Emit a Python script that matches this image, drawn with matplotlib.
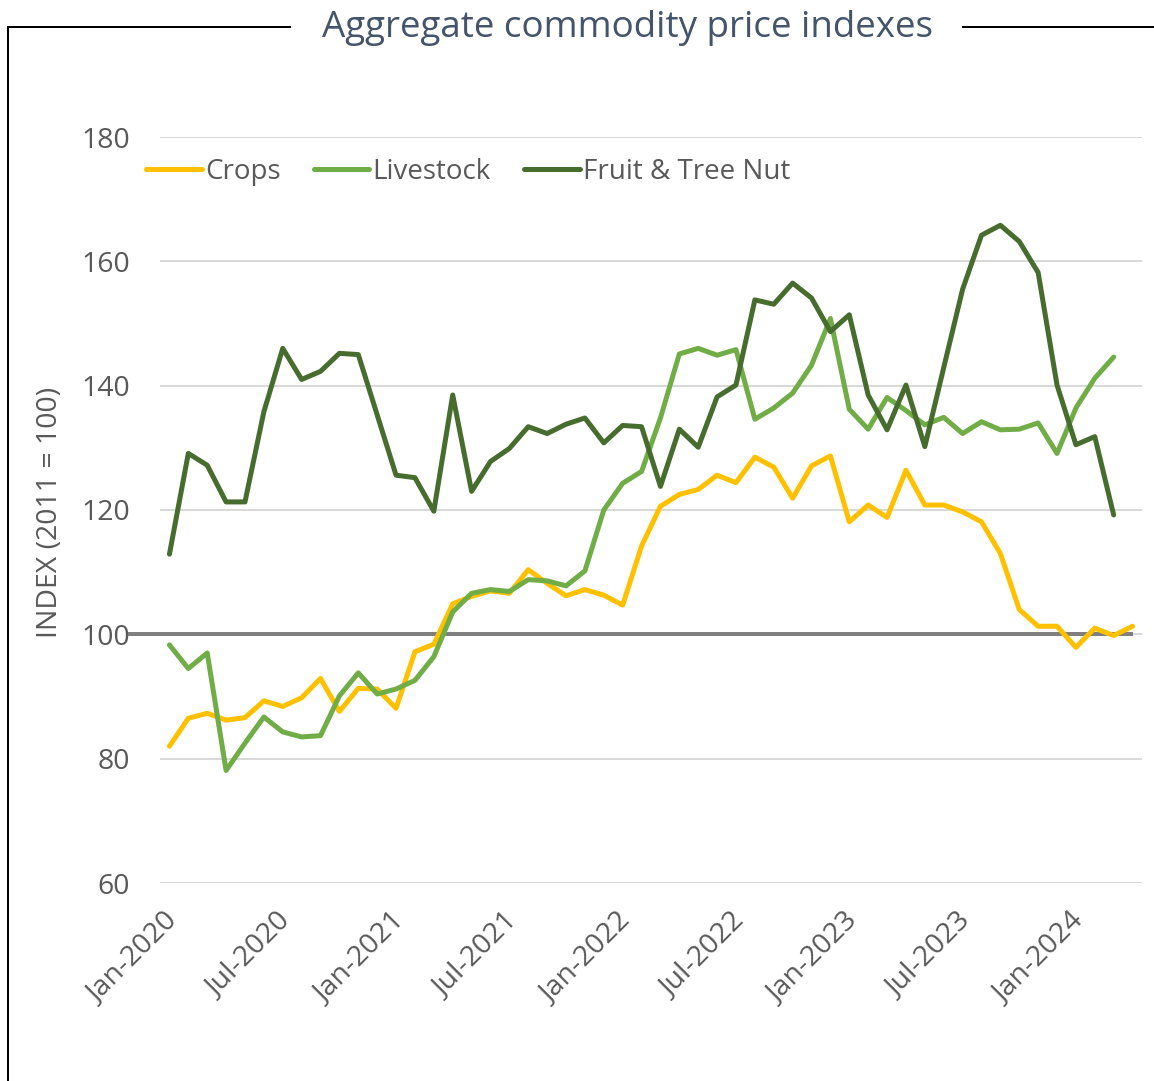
import matplotlib
matplotlib.use("Agg")
import matplotlib.pyplot as plt
import matplotlib.transforms as mtransforms
from matplotlib.lines import Line2D

plt.rcParams['font.family'] = ['Open Sans', 'DejaVu Sans']

crops = [82.0, 86.5, 87.3, 86.2, 86.6, 89.3, 88.4, 89.8, 92.9, 87.6,
         91.3, 91.2, 88.1, 97.2, 98.4, 104.9, 106.1, 107.0, 106.6, 110.4,
         108.2, 106.2, 107.2, 106.3, 104.7, 114.2, 120.6, 122.5, 123.3, 125.6,
         124.4, 128.5, 126.9, 121.9, 127.1, 128.7, 118.1, 120.8, 118.8, 126.4,
         120.8, 120.8, 119.7, 118.1, 113.0, 104.0, 101.3, 101.3, 97.9, 101.0,
         99.8, 101.3]
livestock = [98.3, 94.5, 97.0, 78.1, 82.5, 86.7, 84.3, 83.5, 83.7, 90.1,
             93.8, 90.4, 91.2, 92.6, 96.4, 103.6, 106.6, 107.2, 106.9, 108.8,
             108.6, 107.8, 110.2, 120.0, 124.3, 126.2, 134.8, 145.1, 146.0, 144.9,
             145.8, 134.6, 136.4, 138.8, 143.3, 150.8, 136.2, 133.0, 138.1, 136.0,
             133.7, 134.9, 132.3, 134.2, 132.9, 133.0, 134.0, 129.1, 136.4, 141.2,
             144.6]
fruit = [112.9, 129.1, 127.2, 121.3, 121.3, 135.8, 146.0, 141.0, 142.3, 145.2,
         145.0, 135.3, 125.6, 125.2, 119.8, 138.5, 123.0, 127.8, 129.9, 133.4,
         132.3, 133.8, 134.8, 130.8, 133.6, 133.4, 123.8, 133.0, 130.1, 138.2,
         140.1, 153.8, 153.1, 156.5, 154.1, 148.7, 151.4, 138.5, 132.9, 140.1,
         130.2, 142.9, 155.5, 164.2, 165.8, 163.2, 158.2, 140.1, 130.5, 131.8,
         119.2]
tick_labels = ["Jan-2020", "Jul-2020", "Jan-2021", "Jul-2021", "Jan-2022",
               "Jul-2022", "Jan-2023", "Jul-2023", "Jan-2024"]
baseline = 100

W, H = 1154, 1081
fig = plt.figure(figsize=(W / 100, H / 100), dpi=100)
ax = fig.add_axes([160 / W, 1 - 883 / H, (1142 - 160) / W, (883 - 137) / H])

px = 72 / 100
lw = 5 * px
ax.plot([-2.17, len(crops) - 1], [baseline, baseline], color='#7F7F7F', lw=4 * px,
        zorder=2, clip_on=False, solid_capstyle='butt')
ax.plot(range(len(crops)), crops, color='#FFC000', lw=lw, label='Crops', zorder=3,
        solid_joinstyle='round', solid_capstyle='round')
ax.plot(range(len(livestock)), livestock, color='#70AD47', lw=lw, label='Livestock', zorder=3,
        solid_joinstyle='round', solid_capstyle='round')
ax.plot(range(len(fruit)), fruit, color='#476D2E', lw=lw, label='Fruit & Tree Nut', zorder=3,
        solid_joinstyle='round', solid_capstyle='round')

ax.set_xlim(-0.5, 51.5)
ax.set_ylim(60, 180)
ax.set_yticks(range(60, 181, 20))
ax.yaxis.grid(True, color='#D9D9D9', lw=2 * px)
ax.set_axisbelow(True)
for s in ax.spines.values():
    s.set_visible(False)
ax.tick_params(axis='both', length=0, labelsize=20.5, labelcolor='#595959')
ax.tick_params(axis='y', pad=30 * px)
ax.set_xticks(range(0, 49, 6))
ax.set_xticklabels(tick_labels, rotation=45, ha='right', va='top', rotation_mode='anchor')
ax.tick_params(axis='x', pad=24 * px)
offset = mtransforms.ScaledTranslation(-6 / 100, 0, fig.dpi_scale_trans)
for lab in ax.get_xticklabels():
    lab.set_transform(lab.get_transform() + offset)

ax.set_ylabel('INDEX (2011 = 100)', fontsize=20.5, color='#595959')
ax.yaxis.set_label_coords((64 - 160) / 982, (883 - 512) / 746)

ax.legend(loc='center left', bbox_to_anchor=(146 / W, 1 - 172 / H), bbox_transform=fig.transFigure,
          ncol=3, frameon=False, fontsize=20, labelcolor='#595959', handlelength=2.0,
          handletextpad=0.12, columnspacing=1.2, borderaxespad=0, borderpad=0)

fig.text(628 / W, 1 - 37 / H, 'Aggregate commodity price indexes', ha='center', va='baseline',
         fontsize=26.5, color='#44546A')

frame_kw = dict(color='black', lw=2 * px, transform=fig.transFigure)
fig.add_artist(Line2D([8 / W, 8 / W], [0, 1 - 27 / H], **frame_kw))
fig.add_artist(Line2D([8 / W, 290 / W], [1 - 27 / H, 1 - 27 / H], **frame_kw))
fig.add_artist(Line2D([963 / W, 1], [1 - 27 / H, 1 - 27 / H], **frame_kw))

fig.savefig('out.png', dpi=100)
